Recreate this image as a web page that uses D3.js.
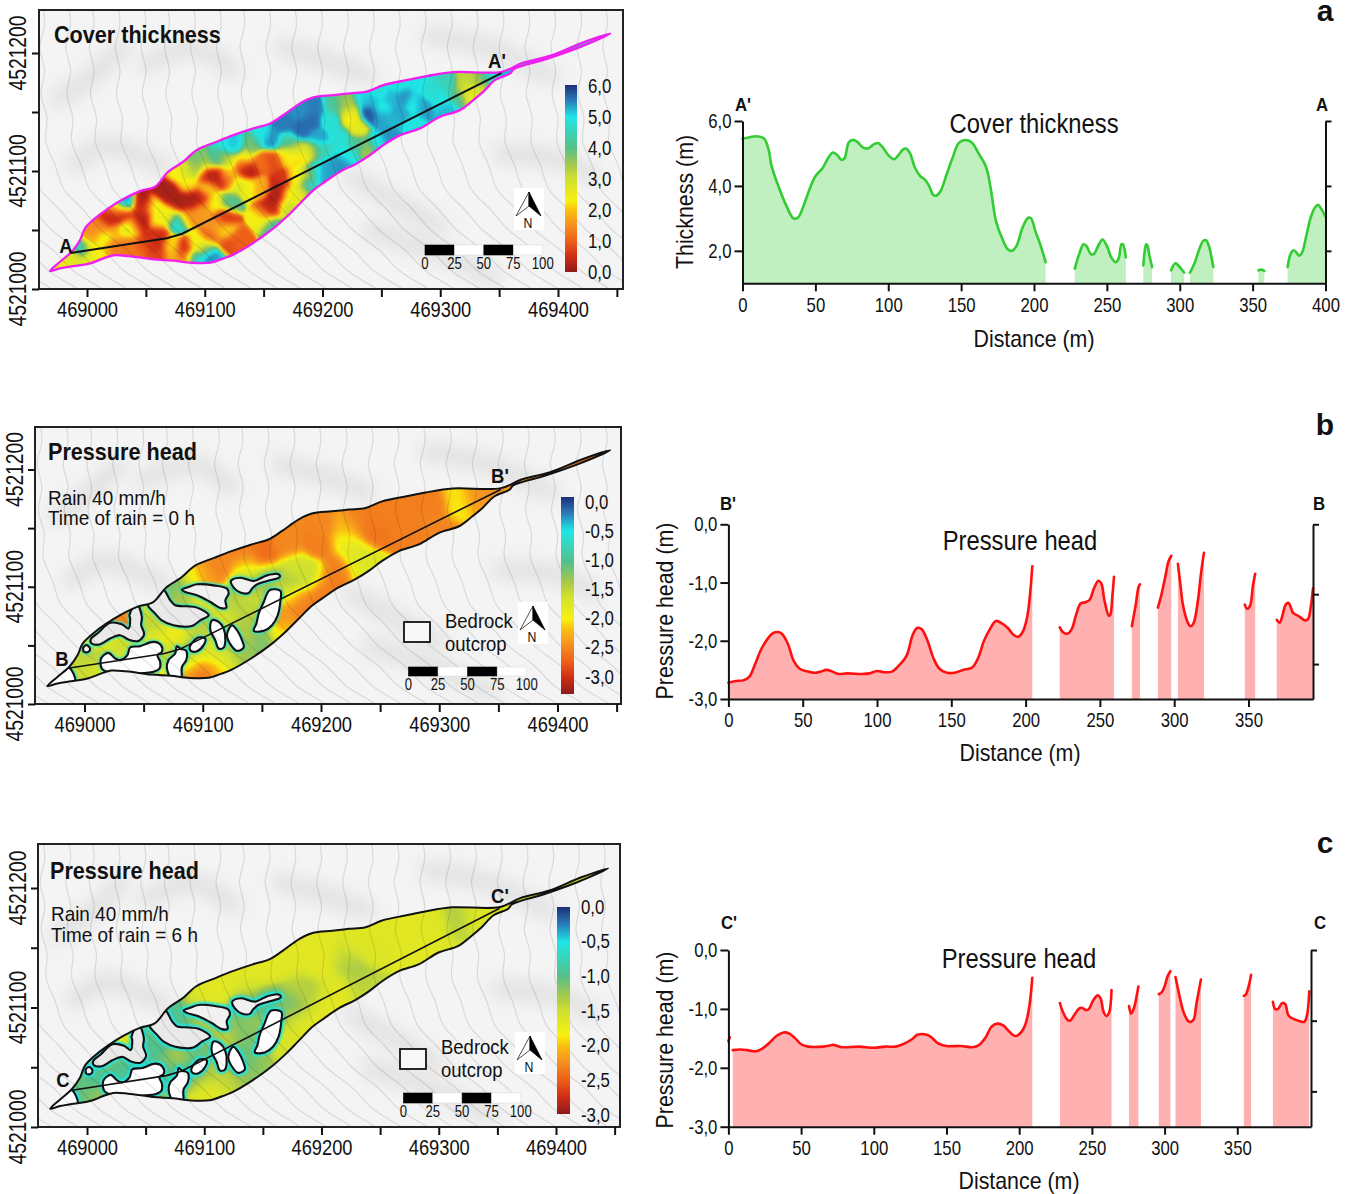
<!DOCTYPE html>
<html>
<head>
<meta charset="utf-8">
<script src="https://cdn.jsdelivr.net/npm/d3@7"></script>
<style>
  body { margin: 0; background: #fff; }
  svg { display: block; }
  text { font-family: 'Liberation Sans', sans-serif; fill: #111; }
  .bold { font-weight: bold; }
</style>
</head>
<body>
<svg id="chart" width="1354" height="1194"></svg>
<script>
// ===== map data: metres east of 469000 / north of 4521000 =====
const slideOutline = [[-31.4,15.2],[-22.9,23.1],[-13,31.6],[-5.9,41.5],[-1.7,51.4],[6.8,59.8],[18.1,68.3],[30.9,76.2],[45,83],[57.8,86.7],[69.1,99.4],[81.8,107.9],[93.2,117.8],[110,124.8],[124.3,130.4],[141.3,136.1],[155.5,140.3],[166.8,147.4],[180.9,157.3],[192.3,162.4],[209.2,164.3],[223.4,165.8],[237.6,167.2],[251.7,172.8],[271.5,177],[288.5,180.4],[311.2,183.8],[352.2,184.1],[369.5,191.5],[393.8,197.7],[421.6,209],[444.5,216.5],[418,204.8],[390.4,195],[362.6,186.5],[359.3,182.7],[346.5,177],[336.6,167.2],[328.1,160.1],[316.8,151.6],[299.8,146],[282.8,136.1],[265.9,130.4],[251.7,122],[240.4,113.5],[229.1,106.4],[214.9,99.4],[202.2,90.9],[192.3,83.8],[180.9,72.5],[169.6,61.2],[158.3,51.3],[140.5,38.6],[123.2,28.7],[115.8,25.9],[104.5,22.3],[87.5,22.3],[73.3,24],[56.4,25.1],[35.1,27.9],[22.4,28.5],[13.9,25.9],[2.6,21.7],[-11.6,19.4],[-22.9,17.5]];

const sectionLine = [[-14,30.5],[67.7,43],[80.4,46.6],[352,183]];

const outcrops = [
  [[123.9,104.9],[131.8,107.7],[143.1,104.9],[154.4,109.7],[164.3,110.6],[165.1,108.3],[154.4,104.9],[145.9,102.1],[141.7,98.4],[138.9,94.7],[131.8,95],[126.2,99.2]],
  [[82.4,97.5],[88,99.8],[95.1,102.1],[109.2,101.2],[120.5,98.4],[121.9,94.1],[119.1,88.5],[119.9,82.2],[114.9,81.9],[106.4,87],[95.1,92.7],[85.2,95.5]],
  [[157.2,97.5],[165.7,96.4],[165.7,88.5],[163.4,75.7],[158.6,67.2],[151.6,62.4],[143.1,62.4],[145.4,68.6],[147.3,77.1],[151.6,87],[154.4,94.1]],
  [[66,98],[72.5,88.5],[76.7,84.2],[86.6,83.3],[95.1,82.2],[105,75.7],[97.9,71.4],[90.8,66.6],[75.3,67.2],[65.4,71.4],[59.8,77.1],[53,86]],
  [[107.8,71.4],[113.4,70],[117.7,64.3],[119.1,54.4],[117.7,48.2],[113.4,47.3],[110.6,54.4],[106.4,62.9]],
  [[124.7,67.2],[129,62.9],[133.2,54.4],[134.6,48.2],[129,45.3],[123.9,50.2],[120.5,58.7]],
  [[96.5,56.7],[102.1,55.8],[100.7,50.2],[95.1,45],[90,45.3],[88.9,48.2],[91.7,53]],
  [[78.1,49.3],[81,47.3],[86,45.3],[86,37.4],[82.4,31.7],[81.5,20],[74.7,20],[69.7,30.3],[71,37.4],[76.7,43.1]],
  [[38.6,48.2],[47.1,49.3],[58.4,53],[64.6,50.2],[65.4,44.5],[61.7,41.6],[64,36],[63.4,30.3],[58.4,27.5],[49.9,26.5],[37.2,25.5],[18.8,27.5],[14.6,30.3],[14,38.8],[20.2,43.6],[25.9,38.8],[30.1,37.4],[36.3,41.6]],
  [[38,75.7],[44,86],[48.5,74.3],[47.9,67.2],[50.4,59.5],[45.6,53.8],[37.2,55],[30.1,58.7],[21.6,55.8],[13.2,51],[6.1,51.6],[5.2,55],[11.7,60.7],[21.6,69.2],[31.5,68],[37.2,64.3],[38.6,72.9]],
  [[-1,48.2],[1.9,50.2],[4.7,47.3],[3.3,44.5],[-0.4,44.5]],
  [[-31.5,15.3],[-13.7,31.1],[-8,18.9],[-20.7,17]]
];
const outcropFills = ['#f1f1f1','#f1f1f1','#fff','#e9e9e9','#fff','#fff','#fff','#fff','#fff','#e9e9e9','#f1f1f1','#fff'];

// contour base path, shifted east by each offset
const contourBase = [[0,250],[4,225],[0,205],[4,185],[1,165],[6,145],[5,125],[13,105],[20,85],[36,68],[52,50],[74,33],[92,15],[116,0],[135,-15],[160,-30]];
const contourOffsets = [-190,-168,-146,-124,-103,-82,-60,-40,-18,2,24,46,66,88,110,130,152,174,196,218,240,262,284,306,328,350,372,394,416,438];

const hillshadeBands = [
  [[-12,105],[18,122],[45,112],[67,103]],
  [[164,205],[200,195],[240,180]],
  [[50,190],[90,205],[125,185]],
  [[-25,160],[10,185],[30,205]],
  [[225,95],[260,75],[300,52]],
  [[240,50],[300,30],[345,10]],
  [[350,115],[400,110],[430,95]],
  [[290,215],[340,205],[395,180]]
];

// sampled field values [east, north, value]
const coverSamples = [
  [-22.9,20.3,2.5],[-13,26,2.7],[-4.5,35.8,4.5],[2.6,26,2.5],[4,37,2.2],[2.6,45.7,1.5],[13.9,44.3,2.5],[11,52.8,1.4],[23.8,62.7,0.2],[18.1,61.3,0.5],[21,60.7,0.2],[30.9,64,0.3],[31.4,74,5.5],[23.8,68.3,2.5],[46.4,74,0.2],[45,59.8,0.2],[45,57,0.2],[46.4,67,0.6],[32.3,51.4,3],[23.8,50,1.8],[38,54.2,2],[59.2,58.4,2.4],[56.3,69.7,2.4],[64.8,85.3,0.2],[69,82.4,0.2],[73.3,78.2,0.2],[79,74,0.2],[84.6,75.4,0.2],[89,76.8,0.2],[96,78.2,0.4],[76.1,57.9,4.8],[67.6,64,2.4],[84.6,62.7,1.5],[96,66.9,1.6],[107.3,74,2.3],[115.8,61.3,0.6],[108.7,54.2,1.6],[56.3,45.7,0.6],[59,47,0.4],[53.5,41.5,0.5],[47.8,37.2,0.9],[59.2,37.2,0.4],[32.3,40,1.3],[21,35.8,1.3],[11,31.6,2.3],[39.3,31.6,1.2],[59.2,28.8,0.8],[70.5,37.2,2.2],[81.8,34.4,0.4],[81.8,26,1.2],[73.3,27.4,1.8],[93.1,38.7,2.4],[104.4,44.3,1],[90.3,26,4.8],[105.8,28.8,5.8],[101.6,35.8,3.6],[108.7,24.5,5],[115.8,50,2.2],[118.6,38.6,0.8],[127.1,41.5,1],
  [76.1,99.4,2.3],[84.6,100.8,3],[93.1,103.6,3.6],[107.3,112.1,4.6],[93.1,112.1,3.8],[115.8,123.4,4.8],[122.8,123.4,5.5],[110.1,96.6,0.2],[104.5,95,0.2],[101.6,98,0.4],[118.6,92.3,0.2],[84.6,89.5,2.2],[101.6,86.7,2.2],[120,75.4,4],[137,102.2,0.2],[130,105,0.6],[155.4,109.3,0.8],[147,107.8,1.2],[180.9,113.5,2],[169.6,115,2.2],[159.7,78.2,0.2],[161,86.6,0.2],[156.8,69.7,0.2],[163.9,92.3,0.6],[152.6,66.9,0.5],[146.9,86.7,1.8],[135.6,86.7,2.4],[124.3,89.5,3],[118.6,98,2.3],[121.5,109.3,3],[113,112,3.5],[132.8,112,2.6],[101.7,109.3,3.2],[138.5,123.4,3.8],[124.3,123.4,4.8],[155.4,127.6,5.4],[147,131.9,4.9],[166.8,140.3,5.5],[180.9,134.7,5.6],[192.2,154.5,5.5],[180.9,151.6,5.4],[195,129,5.3],[189.4,143.2,5.6],[169.6,124.8,4.3],[178,119.1,3.2],[189.4,117.7,3],[197.9,117.7,4.5],[206.4,143.2,4.8],[209.2,157.3,4.2],[223.4,146,2.3],[229,137.5,2.6],[220.5,154.5,3.2],[217.7,161.5,3.6],[214.9,129,4.8],[229,123.4,4.2],[237.5,120.5,3.4],[245,125,5],[220.5,114.9,4.9],[214.9,106.4,5.4],[203.5,103.6,5.3],[192.2,100.8,4.8],[186.6,89.5,4.8],[200.7,98,5.3],[186.6,98,3],[178,95.1,2.2],[172.4,81,2.4],[180.9,83.8,2.7],[168.2,69.7,3],[156.8,55.6,4.2],[148.4,61.2,2.4],[238.9,148.8,5.8],[240.3,160.1,5.3],[248.8,146,5.3],[248.8,154.5,4.9],[257.3,162.9,5.2],[260.1,143.2,5.2],[257.3,130.4,5.4],[268.6,162.9,5.4],[265.8,148.8,5.3],[277.1,157.3,4.8],[274.3,137.5,4.9],[282.8,157.3,5.4],[291.3,168.6,4.7],[280,172.8,5],[305.4,154.5,5.2],[299.8,162.9,4.9],[305.4,174.2,4.5],[319.6,172.8,3],[325.2,165.8,2.5],[322.4,179.9,3.2],[333.7,178.5,3.6],[313.9,163,4],[342.2,181.3,4.8],[330.9,168.6,2.9],[263,174.2,4.9],[246,168.6,4.8],[234.7,163,5],[356,183,5.2],[400,197,5.2],[440,214,4.8]
];
const headSamples0h = [
  [274,168,-2.55],[274,151,-2.55],[295,168,-2.55],[295,157,-2.5],[316,173.6,-2.05],[317.6,165,-2],[330,171,-2.35],[333,178,-2.45],[309,148,-2.55],[240,148,-2.6],[250,162,-2.55],[229.4,156.6,-2.55],[219,142.4,-1.95],[226,134,-1.8],[229.4,125.4,-1.7],[233,119.7,-1.75],[220.8,151,-2.25],[202,151,-2.5],[198,136.7,-2.55],[170.6,136.7,-2.5],[150,128,-2.65],[132.5,128,-2.55],[115.2,119.7,-2.5],[98,108.4,-2.4],[136,116.9,-2],[177.5,116.9,-1.65],[191.4,111,-1.55],[170.6,105.5,-1.4],[205.2,108.4,-2.55],[215.6,116.9,-2.55],[201.7,97,-2.55],[188,80,-2.55],[177.5,88.5,-2.5],[170.6,71.5,-2.4],[167,60,-2],[153.3,108.4,-1.3],[136,105.5,-1.25],[170.6,97,-1.6],[136,88.5,-1.6],[125.6,85.7,-1.3],[94.5,88.5,-1.9],[101.4,82.8,-1.5],[139.5,71.5,-1.4],[132.5,57.3,-1.4],[150,54.5,-1.2],[136,43,-1.3],[122,37.4,-1.5],[115.2,31.7,-2],[98,29,-2.6],[91,24.7,-2.65],[108.3,26,-2.5],[105,43,-1.7],[91,34.6,-2.2],[84,34.6,-1.8],[87.6,43,-1],
  [55.5,65.8,-1.4],[58.4,57.3,-1.9],[75.3,57.3,-1.9],[95,61.5,-1.5],[52.7,74.3,-1.6],[30.1,47.3,-1.6],[7.5,40.2,-1.4],[-3.8,31.7,-1.6],[4.7,26,-1.5],[11.7,30.3,-1.9],[-6.6,40.2,-1.5],[66.8,45.9,-1.7],[72.5,41.6,-1.3],[71,26,-2],[30.1,71.4,-2.5],[10.3,58.7,-2],[79.5,89.9,-1.5],[86.6,91.3,-1.2],[78.1,99.8,-1.1],[89.4,105.5,-1.7],[102,78.5,-1.3],[109.2,85.6,-1.9],[120.5,80,-1.7],[138.9,85.6,-1.5],[360,186,-2.4],[400,197,-2.55],[440,215,-2.6]
];
const headSamples6h = [
  [274,168,-1.66],[274,151,-1.66],[295,168,-1.64],[295,157,-1.66],[316,173.6,-1.35],[317.6,165,-1.4],[330,171,-1.6],[333,178,-1.6],[309,148,-1.64],[240,148,-1.62],[250,162,-1.64],[229,156,-1.64],[219,142,-1.45],[226,134,-1.3],[230,125,-1.32],[233,120,-1.45],[202,151,-1.66],[198,137,-1.66],[170,137,-1.66],[150,128,-1.66],[132,128,-1.66],[115,120,-1.66],[98,108,-1.66],[136,117,-1.58],[177,117,-1.4],[191,111,-1.35],[170,105,-1.05],[205,108,-1.66],[216,117,-1.66],[202,97,-1.66],[188,80,-1.66],[178,88,-1.58],[171,71,-1.6],[167,60,-1.55],[153,108,-0.95],[136,105,-0.95],[171,97,-1.25],[136,88,-1.25],[126,86,-1],[95,88,-1.55],[101,83,-1.2],[139,71,-1.1],[132,57,-1.05],[150,54,-1.2],[136,43,-1.2],[122,37,-1.35],[115,32,-1.55],[98,29,-1.7],[91,25,-1.72],[108,26,-1.68],[105,43,-1.35],[91,35,-1.55],[84,35,-1],[88,43,-0.75],
  [55,66,-0.85],[58,57,-1.1],[75,57,-1.3],[95,61,-1.05],[53,74,-1.1],[30,47,-0.95],[7.5,40,-0.85],[-4,32,-1],[5,26,-1.2],[12,30,-1.3],[-7,40,-1.1],[67,46,-1],[72,42,-0.85],[71,26,-1.3],[30,71,-1.7],[10,59,-1.25],[80,90,-1.05],[87,91,-0.9],[78,100,-0.85],[89,105,-1.6],[102,78,-1.2],[109,86,-1.4],[120,80,-1.45],[360,186,-1.62],[400,197,-1.66],[440,215,-1.66]
];

// colour ramp, 0 = bottom of the legend bar, 1 = top
const rampStops = [0,0.083,0.167,0.25,0.33,0.38,0.5,0.57,0.667,0.83,0.92,1];
const rampColors = ['#8c1a1a','#d02d15','#ee6018','#f59020','#fbc010','#f8f010','#cfe030','#a6c84a','#55c08a','#1fe6e6','#2a78b8','#1c2f7a'];

// ===== profile data: [distance, value] =====
const coverProfile = [
  [[0,5.45],[5,5.5],[10,5.53],[15,5.45],[18,5.1],[20,4.6],[25,3.95],[30,3.4],[35,3],[38,3.02],[42,3.4],[46,3.9],[50,4.3],[55,4.55],[58,4.8],[62,5.03],[65,4.95],[68,4.8],[70,4.85],[73,5.35],[76,5.42],[79,5.35],[82,5.2],[86,5.15],[90,5.28],[93,5.32],[96,5.2],[100,4.95],[104,4.82],[107,4.95],[110,5.12],[112,5.15],[115,5],[118,4.6],[122,4.3],[125,4.2],[128,4],[131,3.72],[133,3.7],[136,3.85],[140,4.35],[144,4.85],[148,5.3],[151,5.4],[155,5.4],[158,5.3],[162,5],[167,4.6],[170,4],[174,2.9],[178,2.4],[182,2.05],[185,2],[188,2.15],[192,2.7],[196,3.02],[198,3],[201,2.6],[205,2.1],[208,1.65]],
  [[228,1.45],[231,1.9],[234,2.2],[236,2.15],[239,1.9],[241,1.9],[244,2.15],[247,2.35],[250,2.15],[253,1.8],[256,1.65],[258,1.75],[260,2.2],[261,2.2],[263,1.8]],
  [[275,1.55],[276,2],[277,2.2],[278,2.15],[279,1.9],[281,1.5]],
  [[294,1.4],[297,1.62],[299,1.55],[303,1.33]],
  [[307,1.33],[310,1.6],[313,2],[316,2.3],[318,2.33],[320,2.15],[323,1.5]],
  [[354,1.4],[356,1.42],[358,1.38]],
  [[374,1.5],[376,1.9],[378,2.02],[380,1.95],[382,1.85],[384,1.95],[387,2.5],[390,3.05],[393,3.35],[395,3.42],[397,3.3],[400,3.05]]
];
const headProfile0h = [
  [[0,-2.72],[5,-2.69],[10,-2.68],[14,-2.62],[18,-2.4],[22,-2.15],[26,-1.98],[30,-1.87],[33,-1.85],[36,-1.88],[40,-2.05],[44,-2.35],[48,-2.48],[54,-2.53],[58,-2.55],[62,-2.53],[66,-2.5],[70,-2.53],[74,-2.57],[80,-2.56],[90,-2.57],[95,-2.56],[100,-2.52],[105,-2.54],[110,-2.53],[115,-2.42],[120,-2.25],[124,-1.9],[127,-1.78],[130,-1.8],[134,-2],[138,-2.3],[142,-2.48],[147,-2.55],[152,-2.55],[158,-2.5],[164,-2.46],[168,-2.3],[172,-2],[176,-1.8],[180,-1.66],[184,-1.7],[188,-1.78],[192,-1.9],[195,-1.93],[198,-1.85],[201,-1.6],[203,-1.2],[204.5,-0.72]],
  [[223,-1.77],[225,-1.85],[228,-1.88],[231,-1.8],[234,-1.55],[237,-1.36],[240,-1.34],[243,-1.3],[246,-1.1],[249,-0.97],[251,-1.02],[253,-1.3],[256,-1.57],[257,-1.55],[258.5,-1.2],[259.5,-0.9]],
  [[271.5,-1.75],[274,-1.4],[276,-1.08],[277,-1.03]],
  [[289,-1.43],[291,-1.25],[294,-0.9],[296,-0.65],[298,-0.54]],
  [[302.5,-0.68],[304,-1],[306,-1.4],[309,-1.68],[311,-1.75],[313,-1.7],[316,-1.3],[318,-0.85],[320,-0.49]],
  [[347.5,-1.38],[349,-1.45],[351,-1.4],[353,-1.05],[354.5,-0.85]],
  [[369,-1.64],[371,-1.69],[373,-1.55],[375,-1.38],[377,-1.35],[380,-1.52],[384,-1.58],[388,-1.65],[390,-1.63],[392,-1.4],[393.4,-1.1]]
];
const headProfile6h = [
  [[3,-1.7],[8,-1.69],[13,-1.7],[19,-1.72],[23,-1.68],[28,-1.58],[33,-1.46],[38,-1.4],[42,-1.42],[46,-1.5],[50,-1.6],[55,-1.64],[65,-1.64],[70,-1.62],[72,-1.61],[78,-1.65],[90,-1.64],[100,-1.66],[108,-1.64],[115,-1.64],[120,-1.6],[126,-1.52],[130,-1.44],[135,-1.43],[139,-1.47],[144,-1.58],[150,-1.63],[160,-1.63],[168,-1.65],[172,-1.62],[177,-1.48],[181,-1.3],[185,-1.25],[189,-1.28],[193,-1.38],[197,-1.46],[200,-1.43],[204,-1.28],[207,-0.95],[209,-0.47]],
  [[228,-0.9],[230,-1.05],[233,-1.18],[235,-1.2],[238,-1.1],[241,-1],[243,-0.98],[246,-1.02],[248,-1],[251,-0.85],[254,-0.77],[256,-0.82],[258,-1.05],[260,-1.12],[262,-1.05],[263.5,-0.68]],
  [[275.5,-0.95],[277,-1.08],[279,-0.98],[281,-0.75],[282,-0.62]],
  [[296,-0.75],[298,-0.72],[300,-0.62],[302,-0.45],[304,-0.36]],
  [[307.5,-0.46],[310,-0.75],[313,-1.05],[316,-1.2],[318,-1.22],[320,-1.18],[322,-0.9],[325,-0.5]],
  [[354.5,-0.78],[356,-0.75],[358,-0.6],[359.5,-0.42]],
  [[374.5,-0.88],[376,-1],[378,-1],[381,-0.9],[383,-0.92],[385,-1.1],[387,-1.15],[392,-1.2],[396,-1.22],[398,-1.1],[399.5,-0.7]]
];
const headStub6h = [[0,-1.55],[1,-1.48]];

const coverDistanceTicks = [0,50,100,150,200,250,300,350,400];
const headDistanceTicks = [0,50,100,150,200,250,300,350];
const eastTicks = [0,50,100,150,200,250,300,350,400,450];
const northTicks = [0,50,100,150,200];
const scaleBarLabels = [0,25,50,75,100];
const coverLegend = [0,1,2,3,4,5,6];
const headLegend = [0,-0.5,-1,-1.5,-2,-2.5,-3];

const svg = d3.select('#chart');
const defs = svg.append('defs');
const comma = v => d3.format('.1f')(v).replace('\u2212', '-').replace('.', ',').replace('-0,0', '0,0');
const ramp = d3.scaleLinear().domain(rampStops).range(rampColors).clamp(true);

defs.append('filter').attr('id', 'soft').attr('filterUnits', 'userSpaceOnUse')
  .attr('x', 0).attr('y', 0).attr('width', 1354).attr('height', 1194)
  .append('feGaussianBlur').attr('stdDeviation', 9);
defs.append('filter').attr('id', 'halo').attr('filterUnits', 'userSpaceOnUse')
  .attr('x', 0).attr('y', 0).attr('width', 1354).attr('height', 1194)
  .append('feGaussianBlur').attr('stdDeviation', 1.3);

function styleAxis(g, size) {
  g.selectAll('path.domain').attr('stroke', '#111').attr('stroke-width', 2);
  g.selectAll('.tick line').attr('stroke', '#111').attr('stroke-width', 2);
  g.selectAll('.tick text').style('font-size', size + 'px').attr('fill', '#222');
}

// 栅格化采样场
function fieldImage(samples, sigma, toColor, x, y) {
  const step = 2;
  const px = slideOutline.map(d => x(d[0]));
  const py = slideOutline.map(d => y(d[1]));
  const x0 = Math.floor(d3.min(px)) - 4, x1 = Math.ceil(d3.max(px)) + 4;
  const y0 = Math.floor(d3.min(py)) - 4, y1 = Math.ceil(d3.max(py)) + 4;
  const w = Math.ceil((x1 - x0) / step), h = Math.ceil((y1 - y0) / step);
  const canvas = document.createElement('canvas');
  canvas.width = w; canvas.height = h;
  const ctx = canvas.getContext('2d');
  const img = ctx.createImageData(w, h);
  const k = -1 / (2 * sigma * sigma);
  for (let j = 0; j < h; j++) {
    for (let i = 0; i < w; i++) {
      const e = x.invert(x0 + i * step), n = y.invert(y0 + j * step);
      let sum = 0, weight = 1e-12;
      for (const s of samples) {
        const dx = s[0] - e, dy = s[1] - n;
        const u = Math.exp(k * (dx * dx + dy * dy)) + 1e-10;
        sum += u * s[2]; weight += u;
      }
      const c = d3.rgb(toColor(sum / weight));
      const o = (j * w + i) * 4;
      img.data[o] = c.r; img.data[o + 1] = c.g; img.data[o + 2] = c.b; img.data[o + 3] = 255;
    }
  }
  ctx.putImageData(img, 0, 0);
  return { href: canvas.toDataURL(), x: x0, y: y0, width: w * step, height: h * step };
}

function drawMap(p) {
  const x = d3.scaleLinear().domain([0, 400]).range(p.xRange);
  const y = d3.scaleLinear().domain([0, 200]).range(p.yRange);
  const toT = d3.scaleLinear().domain(p.valueDomain).range([0, 1]);
  const toColor = v => ramp(toT(v));
  const line = d3.line().x(d => x(d[0])).y(d => y(d[1]));
  const smooth = d3.line().x(d => x(d[0])).y(d => y(d[1])).curve(d3.curveCatmullRom.alpha(0.5));
  const closed = d3.line().x(d => x(d[0])).y(d => y(d[1])).curve(d3.curveCatmullRomClosed.alpha(0.5));

  const clipId = 'frame-' + p.id, outlineId = 'outline-' + p.id, holesId = 'holes-' + p.id;
  defs.append('clipPath').attr('id', clipId).append('rect')
    .attr('x', p.frame[0]).attr('y', p.frame[1]).attr('width', p.frame[2] - p.frame[0]).attr('height', p.frame[3] - p.frame[1]);
  defs.append('clipPath').attr('id', outlineId).append('path').attr('d', closed(slideOutline));
  const rectPath = `M${p.frame[0]},${p.frame[1]}H${p.frame[2]}V${p.frame[3]}H${p.frame[0]}Z`;
  defs.append('clipPath').attr('id', holesId).append('path')
    .attr('clip-rule', 'evenodd')
    .attr('d', rectPath + (p.outcrops ? outcrops.map(o => closed(o)).join('') : ''));

  const g = svg.append('g');
  const map = g.append('g').attr('clip-path', `url(#${clipId})`);
  map.append('rect').attr('x', p.frame[0]).attr('y', p.frame[1]).attr('width', p.frame[2] - p.frame[0]).attr('height', p.frame[3] - p.frame[1]).attr('fill', '#f4f4f4');
  map.append('g').selectAll('path').data(hillshadeBands).join('path')
    .attr('d', smooth).attr('fill', 'none').attr('stroke', '#dedede').attr('stroke-width', 16)
    .attr('stroke-linecap', 'round').attr('filter', 'url(#soft)');

  // 滑坡体栅格
  const f = fieldImage(p.samples, p.sigma, toColor, x, y);
  map.append('g').attr('clip-path', `url(#${outlineId})`)
    .append('image').attr('clip-path', `url(#${holesId})`)
    .attr('href', f.href).attr('x', f.x).attr('y', f.y).attr('width', f.width).attr('height', f.height)
    .attr('preserveAspectRatio', 'none');

  if (p.outcrops) {
    const inside = map.append('g').attr('clip-path', `url(#${outlineId})`);
    inside.append('g').selectAll('path').data(outcrops).join('path')
      .attr('d', closed).attr('fill', 'none').attr('stroke', '#1fe6e6').attr('stroke-width', p.haloWidth).attr('filter', 'url(#halo)');
    inside.append('g').selectAll('path').data(outcrops).join('path')
      .attr('d', closed).attr('fill', (d, i) => outcropFills[i]);
  }

  map.append('g').selectAll('path').data(contourOffsets).join('path')
    .attr('d', o => smooth(contourBase.map(d => [d[0] + o, d[1]])))
    .attr('fill', 'none').attr('stroke', 'rgba(0,0,0,0.11)').attr('stroke-width', 1.2);

  map.append('path').attr('d', closed(slideOutline)).attr('fill', 'none')
    .attr('stroke', p.outlineColor).attr('stroke-width', p.outcrops ? 2 : 2.3);
  if (p.outcrops) {
    map.append('g').attr('clip-path', `url(#${outlineId})`).selectAll('path').data(outcrops).join('path')
      .attr('d', closed).attr('fill', 'none').attr('stroke', '#111').attr('stroke-width', 2.1);
  }
  map.append('path').attr('d', line(sectionLine)).attr('fill', 'none')
    .attr('stroke', '#111').attr('stroke-width', p.outcrops ? 1.6 : 2);

  // 边框与坐标轴
  g.append('rect').attr('x', p.frame[0]).attr('y', p.frame[1]).attr('width', p.frame[2] - p.frame[0]).attr('height', p.frame[3] - p.frame[1])
    .attr('fill', 'none').attr('stroke', '#222').attr('stroke-width', 2);
  const ax = g.append('g').attr('transform', `translate(0,${p.frame[3]})`)
    .call(d3.axisBottom(x).tickValues(eastTicks).tickSize(8).tickPadding(4)
      .tickFormat(d => d % 100 === 0 && d < 450 ? 469000 + d : ''));
  styleAxis(ax, 22.3);
  ax.select('path.domain').remove();
  const ay = g.append('g').attr('transform', `translate(${p.frame[0]},0)`)
    .call(d3.axisLeft(y).tickValues(northTicks).tickSize(7).tickFormat(''));
  styleAxis(ay, 21);
  ay.select('path.domain').remove();
  g.selectAll(null).data([0, 100, 200]).join('text')
    .attr('transform', d => `translate(${p.northLabelX},${y(d)}) rotate(-90)`)
    .attr('text-anchor', 'middle').attr('dominant-baseline', 'central')
    .style('font-size', '23.5px').attr('fill', '#222').text(d => 4521000 + d);

  // 文字
  g.append('text').attr('class', 'bold').attr('data-narrow', 0.9).attr('x', p.title[0]).attr('y', p.title[1]).attr('dominant-baseline', 'central')
    .style('font-size', '24px').text(p.titleText);
  (p.notes || []).forEach(n => g.append('text').attr('data-narrow', 0.9).attr('x', n[0]).attr('y', n[1]).attr('dominant-baseline', 'central')
    .style('font-size', '21px').attr('fill', '#222').text(n[2]));
  p.ends.forEach(n => g.append('text').attr('class', 'bold').attr('data-narrow', 0.88).attr('x', n[0]).attr('y', n[1]).attr('text-anchor', 'middle')
    .attr('dominant-baseline', 'central').style('font-size', '21px').text(n[2]));

  // 色标
  const gradId = 'grad-' + p.id;
  const grad = defs.append('linearGradient').attr('id', gradId).attr('x1', 0).attr('y1', 1).attr('x2', 0).attr('y2', 0);
  rampStops.forEach((t, i) => grad.append('stop').attr('offset', t).attr('stop-color', rampColors[i]));
  g.append('rect').attr('x', p.bar[0]).attr('y', p.bar[1]).attr('width', p.bar[2]).attr('height', p.bar[3]).attr('fill', `url(#${gradId})`);
  const lab = d3.scaleLinear().domain(p.legendDomain).range(p.legendRange);
  g.selectAll(null).data(p.legend).join('text')
    .attr('x', p.bar[0] + p.bar[2] + 11).attr('y', d => lab(d) - 1).attr('dominant-baseline', 'central')
    .style('font-size', '20.5px').attr('fill', '#222').text(comma);

  // 比例尺
  const sb = g.append('g');
  const x0 = p.scaleBar[0];
  d3.pairs(scaleBarLabels).forEach((d, i) => {
    sb.append('rect').attr('x', x0 + x(d[0]) - x(0)).attr('y', p.scaleBar[1]).attr('width', x(d[1]) - x(d[0])).attr('height', p.scaleBar[2])
      .attr('fill', i % 2 ? '#fff' : '#000').attr('stroke', i % 2 ? '#ddd' : '#000').attr('stroke-width', 0.6);
  });
  sb.selectAll('text').data(scaleBarLabels).join('text')
    .attr('x', d => x0 + x(d) - x(0)).attr('y', p.scaleBar[1] + p.scaleBar[2] + 8).attr('text-anchor', 'middle').attr('dominant-baseline', 'central')
    .style('font-size', '16px').attr('fill', '#222').text(d => d);

  // 指北针
  const na = g.append('g').attr('transform', `translate(${p.north[0]},${p.north[1]})`);
  na.append('rect').attr('width', 30).attr('height', 42).attr('fill', '#fff');
  na.append('path').attr('d', 'M15,4L2,28L15,18Z').attr('fill', '#fff').attr('stroke', '#222').attr('stroke-width', 0.8);
  na.append('path').attr('d', 'M15,4L27,28L15,18Z').attr('fill', '#000').attr('stroke', '#000').attr('stroke-width', 0.8);
  na.append('text').attr('x', 14).attr('y', 34).attr('text-anchor', 'middle').attr('dominant-baseline', 'central').style('font-size', '15px').text('N');

  if (p.bedrock) {
    g.append('rect').attr('x', p.bedrock[0]).attr('y', p.bedrock[1]).attr('width', 26).attr('height', 20).attr('fill', '#f8f8f8').attr('stroke', '#111').attr('stroke-width', 1.8);
    g.append('text').attr('data-narrow', 0.88).attr('x', p.bedrock[2]).attr('y', p.bedrock[3]).attr('dominant-baseline', 'central').style('font-size', '21px').attr('fill', '#222').text('Bedrock');
    g.append('text').attr('data-narrow', 0.88).attr('x', p.bedrock[2]).attr('y', p.bedrock[3] + 23).attr('dominant-baseline', 'central').style('font-size', '21px').attr('fill', '#222').text('outcrop');
  }
}

function drawProfile(p) {
  const x = d3.scaleLinear().domain(p.xDomain).range(p.xRange);
  const y = d3.scaleLinear().domain(p.yDomain).range(p.yRange);
  const area = d3.area().x(d => x(d[0])).y0(y(p.yDomain[0])).y1(d => y(d[1])).curve(d3.curveCatmullRom.alpha(0.5));
  const line = d3.line().x(d => x(d[0])).y(d => y(d[1])).curve(d3.curveCatmullRom.alpha(0.5));
  const g = svg.append('g');

  g.append('g').selectAll('path').data(p.segments).join('path').attr('d', area).attr('fill', p.fill);
  g.append('g').selectAll('path').data(p.segments.concat(p.extra || [])).join('path').attr('d', line)
    .attr('fill', 'none').attr('stroke', p.stroke).attr('stroke-width', 2.6).attr('stroke-linecap', 'round');

  const ax = g.append('g').attr('transform', `translate(0,${p.yRange[0]})`)
    .call(d3.axisBottom(x).tickValues(p.xTicks).tickSize(8).tickSizeOuter(0).tickPadding(6));
  styleAxis(ax, 20.4);
  const ay = g.append('g').attr('transform', `translate(${p.xRange[0]},0)`)
    .call(d3.axisLeft(y).tickValues(p.yTicks).tickSize(8).tickSizeOuter(0).tickPadding(3).tickFormat(comma));
  styleAxis(ay, 20.4);
  const ar = g.append('g').attr('transform', `translate(${p.xRange[1]},0)`)
    .call(d3.axisRight(y).tickValues(p.rightTicks).tickSize(6).tickSizeOuter(0).tickFormat(''));
  styleAxis(ar, 19);

  g.append('text').attr('data-narrow', 0.88).attr('x', p.title[0]).attr('y', p.title[1]).attr('text-anchor', 'middle').attr('dominant-baseline', 'central').style('font-size', '27px').attr('fill', '#222').text(p.titleText);
  g.append('text').attr('data-narrow', 0.89).attr('x', p.xLabel[0]).attr('y', p.xLabel[1]).attr('text-anchor', 'middle').attr('dominant-baseline', 'central').style('font-size', '24px').attr('fill', '#222').text('Distance (m)');
  g.append('text').attr('data-narrow', 0.89).attr('transform', `translate(${p.yLabel[0]},${p.yLabel[1]}) rotate(-90)`).attr('text-anchor', 'middle').attr('dominant-baseline', 'central').style('font-size', '24px').attr('fill', '#222').text(p.yLabelText);
  p.ends.forEach(n => g.append('text').attr('class', 'bold').attr('data-narrow', 0.88).attr('x', n[0]).attr('y', n[1]).attr('text-anchor', 'middle').attr('dominant-baseline', 'central').style('font-size', '19px').text(n[2]));
  g.append('text').attr('class', 'bold').attr('data-narrow', 1).attr('x', p.letter[0]).attr('y', p.letter[1]).attr('text-anchor', 'middle').attr('dominant-baseline', 'central').style('font-size', '30px').text(p.letter[2]);
}

drawMap({
  id: 'a', xRange: [87, 558], yRange: [289, 53], frame: [39, 10, 623, 289], northLabelX: 18,
  samples: coverSamples, sigma: 4.4, valueDomain: [0, 6], outlineColor: '#f01ff0', outcrops: false,
  titleText: 'Cover thickness', title: [54, 34], ends: [[66, 245, 'A'], [497, 60, "A'"]],
  bar: [565, 85, 12, 187], legend: coverLegend, legendDomain: [0, 6], legendRange: [272, 86],
  scaleBar: [425, 245, 10], north: [514, 188]
});
drawMap({
  id: 'b', xRange: [84.5, 557.5], yRange: [704, 469.5], frame: [35, 427, 621, 704], northLabelX: 15,
  samples: headSamples0h, sigma: 6.5, valueDomain: [-3.29, 0.086], outlineColor: '#111', outcrops: true, haloWidth: 4,
  titleText: 'Pressure head', title: [48, 451], ends: [[62, 658, 'B'], [500, 475, "B'"]],
  notes: [[48, 497, 'Rain 40 mm/h'], [48, 517, 'Time of rain = 0 h']],
  bar: [561, 497, 13, 197], legend: headLegend, legendDomain: [0, -3], legendRange: [502, 677],
  scaleBar: [408.5, 667, 9], north: [518, 602], bedrock: [404, 622, 445, 620]
});
drawMap({
  id: 'c', xRange: [87, 556], yRange: [1127, 888], frame: [38, 844, 620, 1127], northLabelX: 18,
  samples: headSamples6h, sigma: 7, valueDomain: [-3, 0], outlineColor: '#111', outcrops: true, haloWidth: 6,
  titleText: 'Pressure head', title: [50, 870], ends: [[63, 1079, 'C'], [500, 895, "C'"]],
  notes: [[51, 913, 'Rain 40 mm/h'], [51, 934, 'Time of rain = 6 h']],
  bar: [557, 907, 13, 207], legend: headLegend, legendDomain: [0, -3], legendRange: [907, 1115],
  scaleBar: [403.5, 1093, 10], north: [515, 1032], bedrock: [400, 1049, 441, 1046]
});

drawProfile({
  segments: coverProfile, fill: '#c0f0c0', stroke: '#33cc33', xTicks: coverDistanceTicks,
  xDomain: [0, 400], xRange: [742.5, 1325.5], yDomain: [1, 6], yRange: [283.3, 121],
  yTicks: [2, 4, 6], rightTicks: [2, 4, 6],
  titleText: 'Cover thickness', title: [1034, 124], xLabel: [1034, 338], yLabel: [684, 202], yLabelText: 'Thickness (m)',
  ends: [[743, 104, "A'"], [1322, 104, 'A']], letter: [1325, 10, 'a']
});
drawProfile({
  segments: headProfile0h, fill: '#ffb0b0', stroke: '#ff1010', xTicks: headDistanceTicks,
  xDomain: [0, 393.4], xRange: [728.4, 1313], yDomain: [-3, 0], yRange: [699, 524.3],
  yTicks: [-3, -2, -1, 0], rightTicks: [-2.4, -1.2, 0],
  titleText: 'Pressure head', title: [1020, 541], xLabel: [1020, 752], yLabel: [664, 611], yLabelText: 'Pressure head (m)',
  ends: [[728, 503, "B'"], [1319, 503, 'B']], letter: [1325, 424, 'b']
});
drawProfile({
  segments: headProfile6h, extra: [headStub6h], fill: '#ffb0b0', stroke: '#ff1010', xTicks: headDistanceTicks,
  xDomain: [0, 400.7], xRange: [728.4, 1311], yDomain: [-3, 0], yRange: [1126.7, 950],
  yTicks: [-3, -2, -1, 0], rightTicks: [-2.4, -1.2, 0],
  titleText: 'Pressure head', title: [1019, 959], xLabel: [1019, 1180], yLabel: [664, 1040], yLabelText: 'Pressure head (m)',
  ends: [[729, 922, "C'"], [1320, 922, 'C']], letter: [1325, 842, 'c']
});

// 无窄体字体，用 textLength 压缩字形
svg.selectAll('text').each(function() {
  const len = this.getComputedTextLength();
  if (!len) return;
  const k = +this.getAttribute('data-narrow') || 0.82;
  this.setAttribute('lengthAdjust', 'spacingAndGlyphs');
  this.setAttribute('textLength', len * k);
});
</script>
</body>
</html>
